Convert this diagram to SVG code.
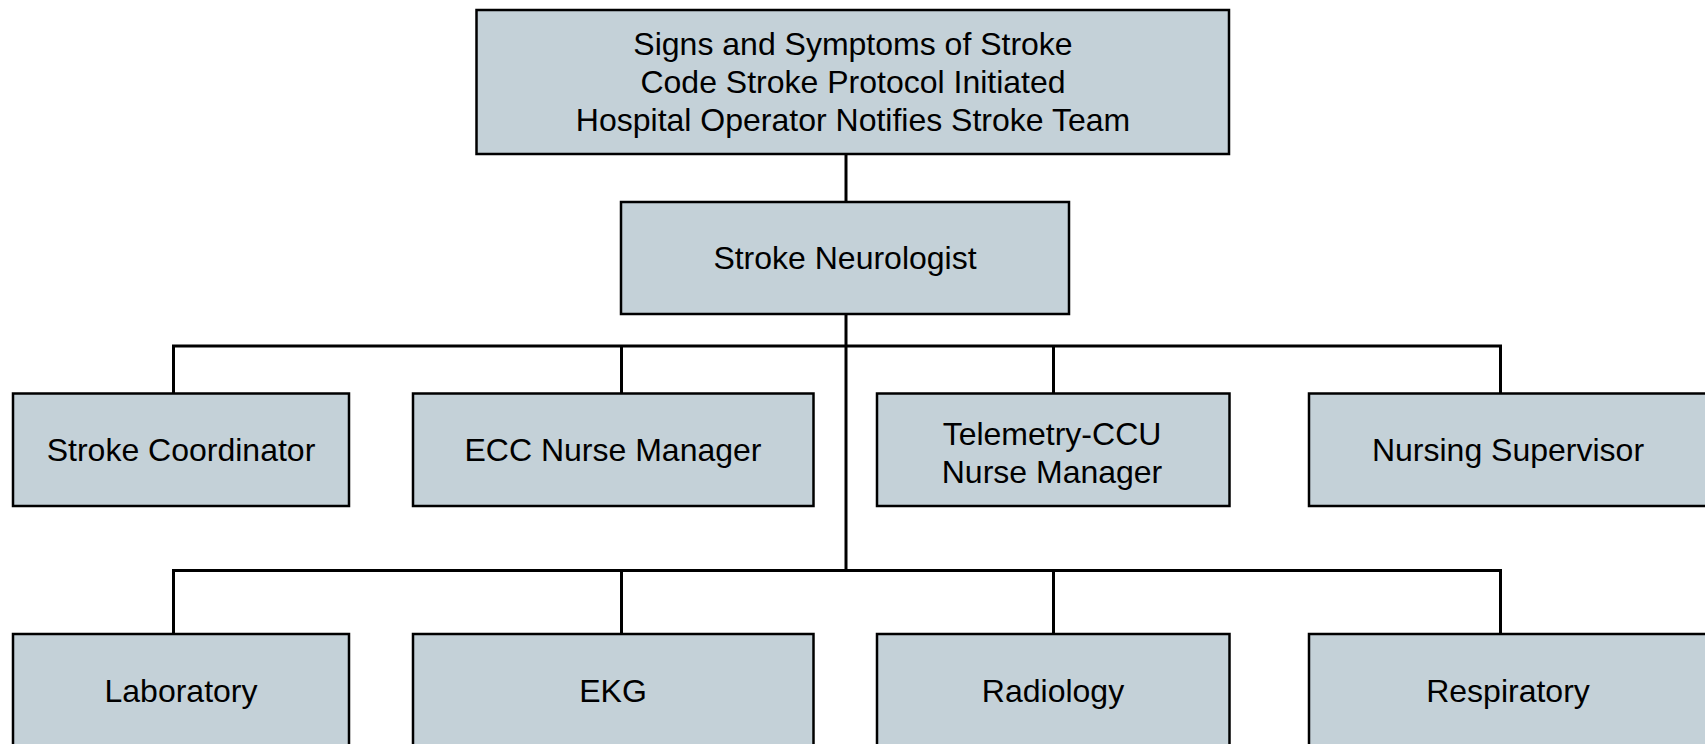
<svg xmlns="http://www.w3.org/2000/svg" width="1705" height="744" viewBox="0 0 1705 744">
<style>
  .box { fill: #c4d1d8; stroke: #000; stroke-width: 2.5; }
  .lbl { font-family: "Liberation Sans", Arial, sans-serif; font-size: 32px; fill: #000; text-anchor: middle; }
  .conn { fill: none; stroke: #000; stroke-width: 3; }
</style>
<rect width="1705" height="744" fill="#fff"/>
<g id="connectors">
  <path class="conn" d="M846 154 V202"/>
  <path class="conn" d="M846 314 V570.5"/>
  <path class="conn" d="M173.5 393.5 V346 H1500.5 V393.5"/>
  <path class="conn" d="M621.5 346 V393.5"/>
  <path class="conn" d="M1053.5 346 V393.5"/>
  <path class="conn" d="M173.5 634 V570.5 H1500.5 V634"/>
  <path class="conn" d="M621.5 570.5 V634"/>
  <path class="conn" d="M1053.5 570.5 V634"/>
</g>
<g id="n-top">
  <rect class="box" x="476.5" y="10" width="752.5" height="144"/>
  <text class="lbl" x="853" y="55">Signs and Symptoms of Stroke</text>
  <text class="lbl" x="853" y="93">Code Stroke Protocol Initiated</text>
  <text class="lbl" x="853" y="131">Hospital Operator Notifies Stroke Team</text>
</g>
<g id="n-neurologist">
  <rect class="box" x="621" y="202" width="448" height="112"/>
  <text class="lbl" x="845" y="269">Stroke Neurologist</text>
</g>
<g id="n-coordinator">
  <rect class="box" x="13" y="393.5" width="336" height="112.5"/>
  <text class="lbl" x="181" y="461">Stroke Coordinator</text>
</g>
<g id="n-ecc">
  <rect class="box" x="413" y="393.5" width="400.5" height="112.5"/>
  <text class="lbl" x="613" y="461">ECC Nurse Manager</text>
</g>
<g id="n-telemetry">
  <rect class="box" x="877" y="393.5" width="352.5" height="112.5"/>
  <text class="lbl" x="1052" y="444.5">Telemetry-CCU</text>
  <text class="lbl" x="1052" y="482.5">Nurse Manager</text>
</g>
<g id="n-supervisor">
  <rect class="box" x="1309" y="393.5" width="400" height="112.5"/>
  <text class="lbl" x="1508" y="461">Nursing Supervisor</text>
</g>
<g id="n-laboratory">
  <rect class="box" x="13" y="634" width="336" height="114"/>
  <text class="lbl" x="181" y="702">Laboratory</text>
</g>
<g id="n-ekg">
  <rect class="box" x="413" y="634" width="400.5" height="114"/>
  <text class="lbl" x="613" y="702">EKG</text>
</g>
<g id="n-radiology">
  <rect class="box" x="877" y="634" width="352.5" height="114"/>
  <text class="lbl" x="1053" y="702">Radiology</text>
</g>
<g id="n-respiratory">
  <rect class="box" x="1309" y="634" width="400" height="114"/>
  <text class="lbl" x="1508" y="702">Respiratory</text>
</g>
</svg>
